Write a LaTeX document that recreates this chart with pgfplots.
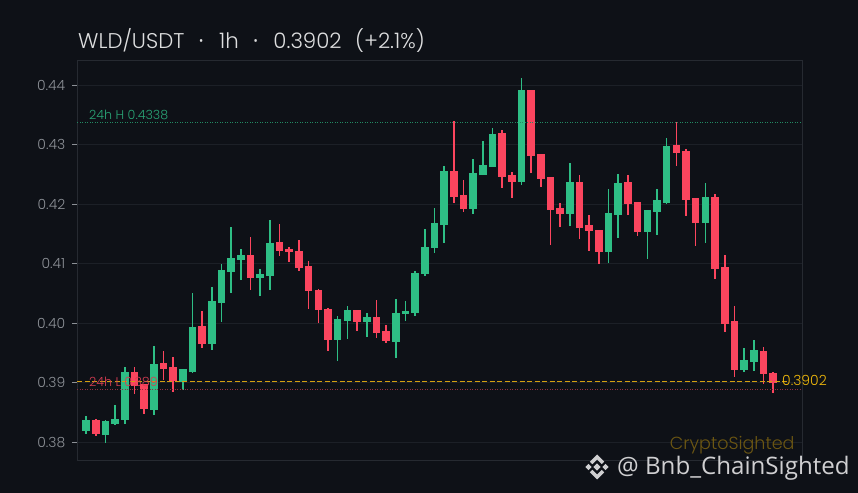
\documentclass[border=0pt]{standalone}
\usepackage{pgfplots}
\usepackage{pgfplotstable}
\usepackage{fontspec}
\pgfplotsset{compat=1.18}
\setmainfont{Poppins}[UprightFont=* Light]
\newfontfamily\wm{Open Sans}
\definecolor{bg}{HTML}{0E1117}
\definecolor{gridc}{HTML}{1C2027}
\definecolor{spine}{HTML}{262A31}
\definecolor{tickc}{HTML}{8C9096}
\definecolor{upc}{HTML}{2EBE85}
\definecolor{downc}{HTML}{FB455E}
\definecolor{goldc}{HTML}{F0B90B}
\definecolor{lastc}{HTML}{D39F10}
\definecolor{hic}{HTML}{228A63}
\definecolor{loc}{HTML}{8F2F40}
\pgfplotstableread{
k lo bot top hi
0 .38139 .38190 .38375 .38442
2 .37988 .38123 .38358 .38375
3 .38291 .38308 .38392 .38627
4 .38308 .38375 .39181 .39266
7 .38459 .38543 .39316 .39618
10 .38879 .39013 .39232 .39232
11 .39165 .39181 .39938 .40509
13 .39551 .39652 .40375 .40610
14 .40022 .40341 .40896 .40997
15 .40509 .40862 .41097 .41619
16 .40728 .41064 .41148 .41249
18 .40459 .40761 .40829 .40913
19 .40560 .40795 .41350 .41736
26 .39366 .39719 .40072 .40123
27 .39736 .40039 .40224 .40291
29 .39770 .40022 .40106 .40173
32 .39417 .39686 .40173 .40408
33 .40039 .40156 .40207 .40375
34 .40123 .40173 .40845 .40879
35 .40795 .40829 .41282 .41585
36 .41182 .41266 .41686 .41938
37 .41350 .41652 .42560 .42644
40 .41837 .41921 .42526 .42761
41 .42492 .42492 .42661 .43064
42 .42627 .42627 .43182 .43282
45 .42324 .42375 .43921 .44123
50 .41635 .41837 .42375 .42694
54 .41013 .41198 .41854 .42257
55 .41434 .41820 .42358 .42509
58 .41081 .41534 .41904 .41904
59 .41484 .41871 .42072 .42257
60 .42005 .42022 .42980 .43114
64 .41350 .41686 .42123 .42358
68 .39181 .39215 .39383 .39585
69 .39198 .39350 .39551 .39719
}\upcandles
\pgfplotstableread{
k lo bot top hi
1 .38106 .38139 .38375 .38390
5 .38812 .38946 .39181 .39266
6 .38476 .38560 .38980 .38980
8 .39047 .39232 .39333 .39534
9 .38845 .39030 .39266 .39434
12 .39585 .39652 .39955 .40207
17 .40560 .40761 .41148 .41450
20 .41131 .41215 .41366 .41669
21 .41030 .41198 .41249 .41282
22 .40879 .40929 .41215 .41400
23 .40240 .40543 .40963 .41047
24 .40005 .40224 .40560 .40576
25 .39534 .39719 .40240 .40257
28 .39871 .40022 .40224 .40224
30 .39753 .39837 .40106 .40392
31 .39669 .39703 .39871 .39971
38 .42022 .42123 .42560 .43400
39 .41871 .41921 .42156 .42408
43 .42274 .42459 .43198 .43249
44 .42106 .42375 .42492 .42543
46 .42526 .42812 .43921 .43921
47 .42291 .42425 .42845 .42845
48 .41316 .41904 .42459 .42459
49 .41619 .41837 .41938 .42022
51 .41417 .41602 .42375 .42492
52 .41215 .41551 .41652 .41820
53 .40997 .41198 .41568 .41568
56 .41820 .42005 .42375 .42492
57 .41467 .41534 .42039 .42039
61 .42644 .42862 .42997 .43383
62 .41803 .42072 .42896 .42929
63 .41299 .41686 .42106 .42106
65 .40745 .40913 .42123 .42173
66 .39854 .39988 .40946 .41148
67 .39097 .39215 .40039 .40291
70 .38980 .39148 .39534 .39602
71 .38829 .38997 .39165 .39181
}\downcandles
\pgfplotstableread{
x y
-0.909 0.3902
-0.134 0.3902
0.641 0.3902
1.416 0.3902
2.191 0.3902
2.966 0.3902
3.741 0.3902
4.516 0.3902
5.291 0.3902
6.066 0.3902
6.841 0.3902
7.616 0.3902
8.391 0.3902
9.166 0.3902
9.941 0.3902
10.716 0.3902
11.491 0.3902
12.266 0.3902
13.041 0.3902
13.816 0.3902
14.591 0.3902
15.366 0.3902
16.141 0.3902
16.916 0.3902
17.691 0.3902
18.466 0.3902
19.241 0.3902
20.016 0.3902
20.791 0.3902
21.566 0.3902
22.341 0.3902
23.116 0.3902
23.891 0.3902
24.666 0.3902
25.441 0.3902
26.216 0.3902
26.991 0.3902
27.766 0.3902
28.541 0.3902
29.316 0.3902
30.091 0.3902
30.866 0.3902
31.641 0.3902
32.416 0.3902
33.191 0.3902
33.966 0.3902
34.741 0.3902
35.516 0.3902
36.291 0.3902
37.066 0.3902
37.841 0.3902
38.616 0.3902
39.391 0.3902
40.166 0.3902
40.941 0.3902
41.716 0.3902
42.491 0.3902
43.266 0.3902
44.041 0.3902
44.816 0.3902
45.591 0.3902
46.366 0.3902
47.141 0.3902
47.916 0.3902
48.691 0.3902
49.466 0.3902
50.241 0.3902
51.016 0.3902
51.791 0.3902
52.566 0.3902
53.341 0.3902
54.116 0.3902
54.891 0.3902
55.666 0.3902
56.441 0.3902
57.216 0.3902
57.991 0.3902
58.766 0.3902
59.541 0.3902
60.316 0.3902
61.091 0.3902
61.866 0.3902
62.641 0.3902
63.416 0.3902
64.191 0.3902
64.966 0.3902
65.741 0.3902
66.516 0.3902
67.291 0.3902
68.066 0.3902
68.841 0.3902
69.616 0.3902
70.391 0.3902
71.166 0.3902
71.941 0.3902
}\lastdashes
\pgfplotsset{
 wick/.style={draw=none, mark=none, forget plot, error bars/.cd, y dir=plus, y explicit,
   error mark=none, error bar style={draw=#1, solid, line width=1.6bp}},
 body/.style={draw=none, mark=none, forget plot, error bars/.cd, y dir=plus, y explicit,
   error mark=none, error bar style={draw=#1, solid, line width=7.6bp}},
 level/.style n args={3}{draw=none, mark=none, forget plot, error bars/.cd, x dir=plus, x explicit,
   error mark=none, error bar style={draw=#1, line width=#2, dash pattern=#3}},
}
\begin{document}
\begin{tikzpicture}[x=1bp,y=1bp]
\fill[bg] (0,0) rectangle (858,493);
\begin{axis}[
  at={(77.3bp,32.7bp)}, anchor=south west, scale only axis,
  width=725bp, height=400bp,
  xmin=-0.909, xmax=74.02, ymin=0.37697, ymax=0.4442,
  xtick=\empty, ytick={0.38,0.39,0.40,0.41,0.42,0.43,0.44},
  ymajorgrids, grid style={gridc, line width=0.9bp},
  axis line style={spine, line width=1bp},
  axis x line*=bottom, axis y line*=left,
  clip=false,
  y tick style={tickc, line width=0.9bp}, major tick length=5.5bp, tick align=outside,
  yticklabel style={/pgf/number format/.cd, fixed, fixed zerofill, precision=2, assume math mode=true},
  tick label style={font=\fontsize{14}{16}\selectfont, text=tickc},
  yticklabel shift=3bp,
]
\addplot[wick=upc] table[x=k,y=lo,y error plus expr=\thisrow{hi}-\thisrow{lo}] {\upcandles};
\addplot[wick=downc] table[x=k,y=lo,y error plus expr=\thisrow{hi}-\thisrow{lo}] {\downcandles};
\addplot[body=upc] table[x=k,y=bot,y error plus expr=\thisrow{top}-\thisrow{bot}] {\upcandles};
\addplot[body=downc] table[x=k,y=bot,y error plus expr=\thisrow{top}-\thisrow{bot}] {\downcandles};
\addplot[level={hic}{0.8bp}{on 1bp off 1.5bp}] coordinates {(-0.909,0.4338) +- (74.93,0)};
\addplot[level={loc}{0.8bp}{on 1bp off 1.5bp}] coordinates {(-0.909,0.3889) +- (74.93,0)};
\addplot[draw=none, mark=none, forget plot, error bars/.cd, x dir=plus, x explicit, error mark=none,
  error bar style={draw=lastc, solid, line width=1.3bp}] table[x=x,y=y,x error expr=0.517] {\lastdashes};
\end{axis}
\draw[spine, line width=1bp] (77.3,432.7) -- (802.3,432.7) -- (802.3,32.7);
\node[anchor=base west, inner sep=0, text=white!86!bg, font=\fontsize{21.4}{24}\selectfont] at (78,444) {WLD/USDT\hspace{14bp}{\wm ·}\hspace{15bp}1h\hspace{14bp}{\wm ·}\hspace{15bp}0.3902\hspace{13.5bp}(+2.1\%)};
\node[anchor=base west, inner sep=0, text=upc!85!bg, font=\fontsize{12.7}{14}\selectfont] at (89,373) {24h H 0.4338};
\node[anchor=base west, inner sep=0, text=downc!85!bg, font=\fontsize{12.7}{14}\selectfont] at (89,106) {24h L 0.389};
\node[anchor=base west, inner sep=0, text=goldc, font=\fontsize{14}{16}\selectfont] at (782,107) {0.3902};
\node[anchor=base west, inner sep=0, text=goldc!42!bg, font=\fontsize{17.6}{18}\selectfont] at (669.6,43) {CryptoSighted};
\node[anchor=base west, inner sep=0, text=white!80!bg, font=\wm\fontsize{24.2}{26}\selectfont] at (617,18.5) {@ Bnb\_ChainSighted};
\begin{scope}[shift={(597,26)}, white!80!bg]
\fill (0,3.6)--(3.6,0)--(0,-3.6)--(-3.6,0)--cycle;
\fill (-8.5,3.2)--(-5.3,0)--(-8.5,-3.2)--(-11.7,0)--cycle;
\fill (8.5,3.2)--(11.7,0)--(8.5,-3.2)--(5.3,0)--cycle;
\fill (0,12.5)--(7.2,5.3)--(4.7,2.8)--(0,7.5)--(-4.7,2.8)--(-7.2,5.3)--cycle;
\fill (0,-12.5)--(7.2,-5.3)--(4.7,-2.8)--(0,-7.5)--(-4.7,-2.8)--(-7.2,-5.3)--cycle;
\end{scope}
\end{tikzpicture}
\end{document}
